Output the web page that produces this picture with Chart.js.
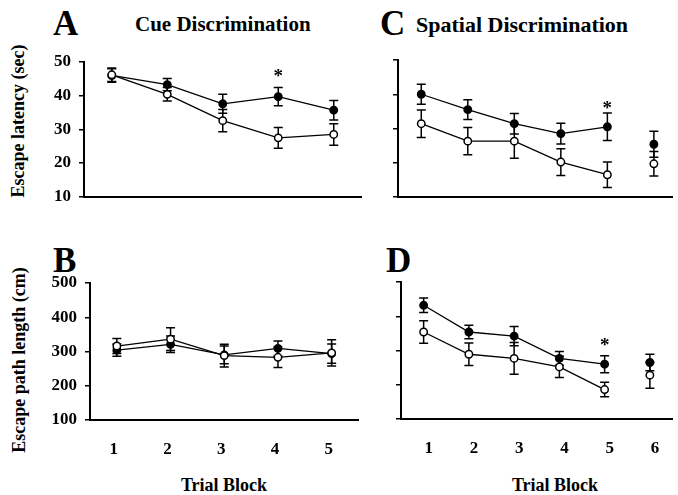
<!DOCTYPE html>
<html lang="en">
<head>
  <meta charset="UTF-8"/>
  <title>Escape latency and path length</title>
  <script src="https://cdn.jsdelivr.net/npm/chart.js"></script>
  <style>
    body {
      margin: 0;
      background: #fff;
      font-family: "Liberation Serif", "Times New Roman", serif;
      font-weight: bold;
      color: #000;
    }
    #fig {
      position: relative;
      width: 678px;
      height: 495px;
      overflow: hidden;
    }
    #fig canvas, .txt {
      position: absolute;
    }
    .letter {
      font-size: 35px;
      line-height: 34px;
    }
    .title {
      font-size: 21px;
      line-height: 21px;
      white-space: nowrap;
    }
    .ytitle {
      width: 220px;
      height: 20px;
      line-height: 20px;
      font-size: 18px;
      text-align: center;
      white-space: nowrap;
      transform: rotate(-90deg);
    }
    .xtitle {
      width: 200px;
      height: 22px;
      line-height: 22px;
      font-size: 18px;
      text-align: center;
    }
  </style>
</head>
<body>
<div id="fig">
  <div class="txt letter" style="left:53px; top:7px;">A</div>
  <div class="txt title" style="left:135px; top:14px;">Cue Discrimination</div>
  <div class="txt letter" style="left:380px; top:7px;">C</div>
  <div class="txt title" style="left:416px; top:14px; font-size:22px;">Spatial Discrimination</div>
  <div class="txt letter" style="left:53px; top:244px;">B</div>
  <div class="txt letter" style="left:386px; top:244px;">D</div>

  <div class="txt ytitle" style="left:-92px; top:111px;">Escape latency (sec)</div>
  <div class="txt ytitle" style="left:-91px; top:350px;">Escape path length (cm)</div>
  <div class="txt xtitle" style="left:124px; top:474px;">Trial Block</div>
  <div class="txt xtitle" style="left:455px; top:474px;">Trial Block</div>

  <canvas id="chartA" width="367" height="175" style="left:0; top:40px;"></canvas>
  <canvas id="chartC" width="311" height="175" style="left:367px; top:40px;"></canvas>
  <canvas id="chartB" width="364" height="200" style="left:0; top:260px;"></canvas>
  <canvas id="chartD" width="314" height="200" style="left:364px; top:260px;"></canvas>
</div>

<script>
  // trial blocks
  const blocksCue = [1, 2, 3, 4, 5];
  const blocksSpatial = [1, 2, 3, 4, 5, 6];
  const latencyTicks = [10, 20, 30, 40, 50];
  const pathTicks = [100, 200, 300, 400, 500];

  // A - cue discrimination, escape latency (sec)
  const latCueFilled    = [46.0, 43.3, 37.6, 39.7, 35.7];
  const latCueFilledErr = [2.0, 1.8, 2.8, 2.7, 2.9];
  const latCueOpen      = [46.2, 40.4, 32.6, 27.5, 28.5];
  const latCueOpenErr   = [2.0, 2.0, 3.3, 3.1, 3.2];

  // C - spatial discrimination, escape latency (sec)
  const latSpaFilled    = [40.0, 35.5, 31.4, 28.5, 30.5, 25.4];
  const latSpaFilledErr = [2.9, 2.9, 3.0, 3.0, 4.0, 3.8];
  const latSpaOpen      = [31.4, 26.3, 26.3, 20.2, 16.5, 19.7];
  const latSpaOpenErr   = [4.0, 4.0, 5.0, 3.9, 3.7, 3.6];

  // B - cue discrimination, escape path length (cm)
  const pathCueFilled    = [304, 321, 290, 309, 294];
  const pathCueFilledErr = [18, 24, 26, 22, 28];
  const pathCueOpen      = [316, 336, 288, 283, 296];
  const pathCueOpenErr   = [22, 33, 33, 30, 38];

  // D - spatial discrimination, escape path length (cm)
  const pathSpaFilled    = [432, 354, 342, 277, 260, 265];
  const pathSpaFilledErr = [21, 20, 28, 20, 25, 24];
  const pathSpaOpen      = [354, 289, 277, 252, 186, 228];
  const pathSpaOpenErr   = [33, 33, 46, 31, 21, 38];

  // significance marks [block, value]
  const starA = [4, 47.1];
  const starC = [5, 37.2];
  const starD = [5, 327];

  const FONT = "'Liberation Serif', 'Times New Roman', serif";

  // error bars go under the markers
  const errorBars = {
    id: "errorBars",
    beforeDatasetsDraw(chart) {
      const { ctx, scales: { x, y } } = chart;
      ctx.save();
      ctx.strokeStyle = "#000";
      ctx.lineWidth = 1.5;
      chart.data.datasets.forEach(ds => {
        ds.data.forEach((p, i) => {
          const e = ds.errors[i];
          const px = x.getPixelForValue(p.x);
          const top = y.getPixelForValue(p.y + e);
          const bot = y.getPixelForValue(p.y - e);
          ctx.beginPath();
          ctx.moveTo(px, top); ctx.lineTo(px, bot);
          ctx.moveTo(px - 4.5, top); ctx.lineTo(px + 4.5, top);
          ctx.moveTo(px - 4.5, bot); ctx.lineTo(px + 4.5, bot);
          ctx.stroke();
        });
      });
      ctx.restore();
    }
  };

  const star = {
    id: "star",
    afterDatasetsDraw(chart, args, opts) {
      if (!opts.at) return;
      const { ctx, scales: { x, y } } = chart;
      ctx.save();
      ctx.fillStyle = "#000";
      ctx.font = "bold 19px " + FONT;
      ctx.textAlign = "center";
      ctx.textBaseline = "alphabetic";
      ctx.fillText("*", x.getPixelForValue(opts.at[0]), y.getPixelForValue(opts.at[1]) + 10);
      ctx.restore();
    }
  };

  function series(blocks, means, errs, filled, joined) {
    return {
      data: blocks.map((b, i) => ({ x: b, y: means[i] })),
      errors: errs,
      borderColor: "#000",
      borderWidth: 1.3,
      pointRadius: 3.7,
      pointBorderWidth: 1.5,
      pointBorderColor: "#000",
      pointBackgroundColor: filled ? "#000" : "#fff",
      segment: {
        borderColor: c => c.p1DataIndex >= joined ? "rgba(0,0,0,0)" : "#000"
      }
    };
  }

  function panel(id, p) {
    new Chart(document.getElementById(id), {
      type: "line",
      data: {
        datasets: [
          series(p.blocks, p.open, p.openErr, false, 5),
          series(p.blocks, p.filled, p.filledErr, true, 5)
        ]
      },
      options: {
        responsive: false,
        animation: false,
        events: [],
        layout: { padding: { top: p.padTop, left: 0, right: 0, bottom: 0 } },
        plugins: {
          legend: { display: false },
          tooltip: { enabled: false },
          star: { at: p.star }
        },
        scales: {
          x: {
            type: "linear",
            min: 0.5,
            max: p.xMax,
            afterBuildTicks: s => { s.ticks = p.blocks.map(v => ({ value: v })); },
            afterFit: s => { s.height = p.xh; },
            border: { display: true, color: "#000", width: 2 },
            grid: { display: false, drawTicks: false },
            ticks: {
              display: p.xLabels,
              autoSkip: false,
              padding: 19,
              labelOffset: p.labelOffset || 0,
              color: "#000",
              font: { family: FONT, size: 17, weight: "bold" }
            }
          },
          y: {
            type: "linear",
            min: p.yTicks[0],
            max: p.yTicks[p.yTicks.length - 1],
            afterBuildTicks: s => { s.ticks = p.yTicks.map(v => ({ value: v })); },
            afterFit: s => { s.width = p.yw; },
            border: { display: true, color: "#000", width: 2 },
            grid: { display: true, drawOnChartArea: false, drawTicks: true, tickLength: 5, color: "#000", lineWidth: 1.5 },
            ticks: {
              display: p.yLabels,
              padding: 8,
              color: "#000",
              font: { family: FONT, size: 17, weight: "bold" }
            }
          }
        }
      },
      plugins: [errorBars, star]
    });
  }

  panel("chartA", {
    blocks: blocksCue, yTicks: latencyTicks, xMax: 5.5,
    filled: latCueFilled, filledErr: latCueFilledErr,
    open: latCueOpen, openErr: latCueOpenErr,
    star: starA, yw: 84, padTop: 22, xh: 16, xLabels: false, yLabels: true
  });
  panel("chartC", {
    blocks: blocksSpatial, yTicks: latencyTicks, xMax: 6.4,
    filled: latSpaFilled, filledErr: latSpaFilledErr,
    open: latSpaOpen, openErr: latSpaOpenErr,
    star: starC, yw: 31, padTop: 20, xh: 18, xLabels: false, yLabels: false
  });
  panel("chartB", {
    blocks: blocksCue, yTicks: pathTicks, xMax: 5.5,
    filled: pathCueFilled, filledErr: pathCueFilledErr,
    open: pathCueOpen, openErr: pathCueOpenErr,
    star: null, yw: 90, padTop: 23, xh: 40, xLabels: true, yLabels: true, labelOffset: -3
  });
  panel("chartD", {
    blocks: blocksSpatial, yTicks: pathTicks, xMax: 6.5,
    filled: pathSpaFilled, filledErr: pathSpaFilledErr,
    open: pathSpaOpen, openErr: pathSpaOpenErr,
    star: starD, yw: 37, padTop: 22, xh: 41, xLabels: true, yLabels: false, labelOffset: 5
  });
</script>
</body>
</html>
